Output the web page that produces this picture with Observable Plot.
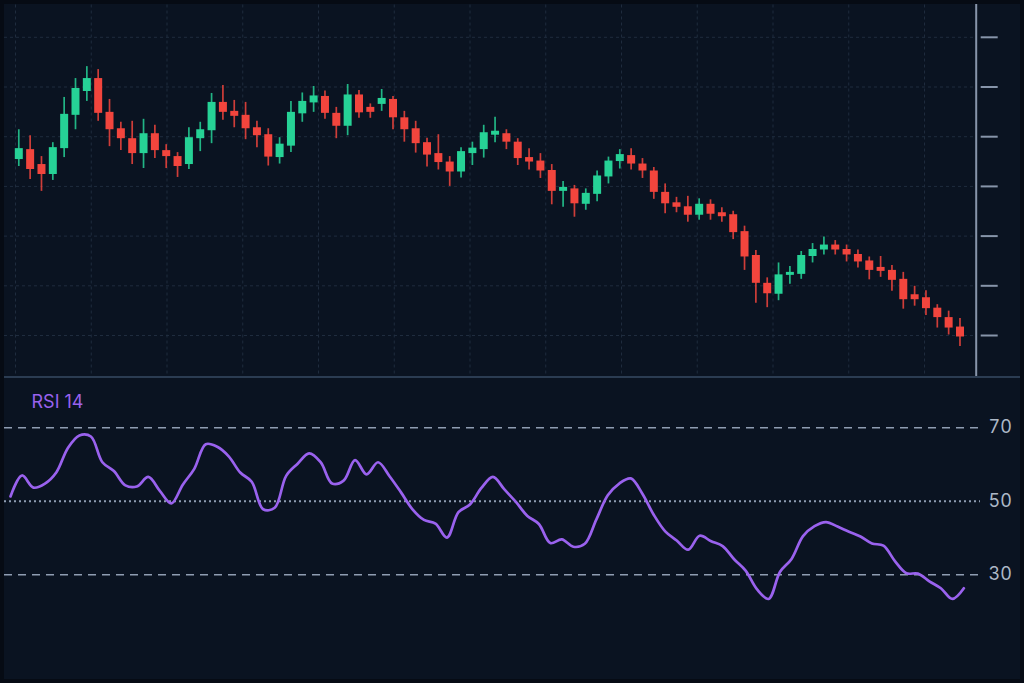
<!DOCTYPE html>
<html>
<head>
<meta charset="utf-8">
<script src="https://cdn.jsdelivr.net/npm/d3@7"></script>
<script src="https://cdn.jsdelivr.net/npm/@observablehq/plot@0.6"></script>
<style>
  html, body { margin: 0; padding: 0; width: 1024px; height: 683px; overflow: hidden; background: #060b14; }
  #panel { position: absolute; left: 4px; top: 4px; width: 1016px; height: 675px; background: #0a1321; }
  #top { position: absolute; left: 0; top: 0; }
  #divider { position: absolute; left: 4px; top: 376px; width: 1016px; height: 2px; background: #2b3c52; }
  #bottom { position: absolute; left: 0; top: 378px; }
  svg { display: block; }
</style>
</head>
<body>
<div id="panel"></div>
<div id="top"></div>
<div id="divider"></div>
<div id="bottom"></div>
<script>
// ---- Data ----
const open  = [135.4,137.4,134.4,132.4,137.6,144.3,149.1,151.7,144.9,141.6,139.6,136.6,140.6,137.2,136.0,134.4,139.6,141.2,146.9,145.1,144.3,141.8,140.4,135.8,138.1,144.6,146.8,148.1,144.7,142.1,148.4,145.9,146.5,147.5,143.8,141.6,138.8,136.6,134.9,132.9,136.6,137.4,140.3,140.6,138.9,135.8,135.1,133.2,129.0,129.5,126.4,128.4,131.9,135.0,136.2,134.5,133.1,128.8,126.7,125.9,124.2,126.4,124.7,124.3,120.9,116.1,110.5,108.3,112.1,112.3,115.9,117.2,118.2,117.3,116.3,115.0,113.7,113.1,111.3,108.2,107.6,105.5,103.6,101.7];
const close = [137.6,133.4,132.4,137.8,144.5,149.7,151.7,144.7,141.4,139.6,136.6,140.6,137.2,136.0,134.0,139.8,141.4,146.9,144.9,144.1,141.6,140.2,135.9,138.5,144.9,147.1,148.2,144.7,142.1,148.4,144.8,144.9,147.7,143.8,141.4,138.6,136.3,134.8,132.9,137.0,137.7,140.8,141.1,138.9,135.6,134.9,133.1,129.0,129.8,126.5,128.6,132.1,135.1,136.4,134.5,133.1,128.8,126.5,125.8,124.2,126.4,124.4,123.9,120.7,115.8,110.5,108.4,112.2,112.7,116.1,117.3,118.2,117.2,116.2,114.8,113.1,112.9,111.1,107.2,107.2,105.4,103.6,101.5,99.7];
const high  = [141.4,140.2,136.0,138.8,147.9,151.7,154.1,153.5,147.5,142.9,143.1,143.5,142.3,138.4,136.8,141.8,142.9,148.7,150.3,147.3,146.9,143.1,141.6,139.8,147.1,148.8,150.1,149.2,145.9,150.5,149.3,146.6,149.5,148.1,145.1,143.1,139.7,140.4,136.0,137.8,138.9,142.3,143.9,141.4,139.6,137.6,136.6,134.4,131.0,130.2,129.5,133.1,135.9,137.4,137.6,135.6,133.8,130.5,127.8,128.0,127.5,127.3,125.7,125.0,122.0,117.1,111.6,114.6,113.9,116.9,118.5,119.8,119.1,118.2,117.2,115.8,115.9,114.1,112.7,109.9,109.0,106.2,104.9,103.4];
const low   = [134.0,131.4,129.0,131.2,135.8,141.4,147.1,143.1,138.0,137.2,134.4,133.6,135.6,133.6,131.8,133.4,137.0,138.6,143.3,141.8,139.4,137.8,134.1,134.5,136.8,142.9,144.9,143.5,139.6,140.2,143.7,143.7,145.1,141.4,138.9,136.7,133.9,133.3,130.0,131.7,134.2,135.7,138.8,137.4,134.2,133.3,131.6,126.3,125.8,123.8,125.2,126.9,130.5,133.5,133.3,131.6,127.4,124.5,124.7,122.8,123.2,123.2,122.8,119.3,113.1,106.5,105.6,107.0,110.3,111.3,114.6,116.2,116.2,114.8,113.6,111.2,111.7,108.9,105.3,105.9,104.0,101.5,100.1,97.8];

const rsi = [51.3,57.0,53.7,54.8,57.9,64.5,67.9,67.6,60.6,58.2,
             54.3,54.0,56.6,52.8,49.4,54.5,58.8,65.5,64.8,62.2,
             57.8,55.3,47.8,48.2,56.9,60.2,63.0,60.6,54.8,55.6,
             61.2,57.3,60.6,56.8,52.4,47.8,44.9,43.9,40.1,47.0,
             49.1,53.6,56.6,53.2,49.8,46.0,43.8,38.6,39.6,37.6,
             38.4,45.0,51.6,54.8,56.2,52.1,46.3,41.8,39.3,36.8,
             40.6,39.1,37.8,34.2,31.1,26.0,23.4,30.8,34.3,40.5,
             43.2,44.3,43.1,41.7,40.4,38.5,37.9,33.7,30.4,30.3,
             28.2,26.3,23.4,26.3];

const priceTicks = [100, 110, 120, 130, 140, 150, 160];
const timeGrid = [-0.29, 6.39, 13.07, 19.75, 26.43, 33.11, 39.79, 46.47, 53.15, 59.83, 66.51, 73.19, 79.87];
const rsiBands = [70, 30];
const rsiMid = [50];
const rsiTicks = [70, 50, 30];
const rsiTitle = ["RSI 14"];

// ---- Styles ----
const UP = "#26d296";
const DOWN = "#f2453d";
const GRID = "#1f2c3e";
const AXIS = "#8795aa";
const LEVEL = "#8f9db2";
const PURPLE = "#9a62ee";
const LABEL = "#adb8c7";
const FONT = "Inter, 'Noto Sans', sans-serif";

const candles = open.map((o, i) => ({
  i, open: o, close: close[i], high: high[i], low: low[i],
  color: close[i] >= o ? UP : DOWN
}));

const topChart = Plot.plot({
  width: 1024,
  height: 378,
  marginLeft: 4,
  marginRight: 48.3,
  marginTop: 4.5,
  marginBottom: 1,
  x: {domain: [-1.261, 84.43], axis: null},
  y: {domain: [91.55, 166.5], axis: null},
  style: {background: "transparent", fontFamily: FONT},
  marks: [
    Plot.gridX(timeGrid, {stroke: GRID, strokeOpacity: 1, strokeWidth: 1, strokeDasharray: "3,3"}),
    Plot.gridY(priceTicks, {stroke: GRID, strokeOpacity: 1, strokeWidth: 1, strokeDasharray: "3,3"}),
    Plot.ruleX(candles, {x: "i", y1: "low", y2: "high", stroke: "color", strokeWidth: 1.7, strokeOpacity: 0.85}),
    Plot.ruleX(candles, {x: "i", y1: "open", y2: "close", stroke: "color", strokeWidth: 8}),
    Plot.frame({anchor: "right", stroke: AXIS, strokeWidth: 2}),
    Plot.axisY(priceTicks, {anchor: "right", tickSize: 17, dx: 4, tickFormat: () => "", stroke: AXIS, strokeWidth: 2})
  ]
});
document.getElementById("top").appendChild(topChart);

const bottomChart = Plot.plot({
  width: 1024,
  height: 305,
  marginLeft: 4,
  marginRight: 44,
  marginTop: 12.45,
  marginBottom: 35.3,
  x: {domain: [-0.522, 84.45], axis: null},
  y: {domain: [10, 80], axis: null},
  style: {background: "transparent", fontFamily: FONT},
  marks: [
    Plot.ruleY(rsiBands, {stroke: LEVEL, strokeWidth: 1.6, strokeDasharray: "8,6"}),
    Plot.ruleY(rsiMid, {stroke: LEVEL, strokeWidth: 2, strokeDasharray: "2,3"}),
    Plot.lineY(rsi, {x: (d, i) => i, y: d => d, stroke: PURPLE, strokeWidth: 2.7, curve: "catmull-rom"}),
    Plot.axisY(rsiTicks, {anchor: "right", tickSize: 0, tickPadding: 8, fontSize: 18, fill: LABEL, textAnchor: "start"}),
    Plot.text(rsiTitle, {frameAnchor: "top-left", dx: 27, dy: 11.5, textAnchor: "start", lineAnchor: "middle", fontSize: 18, fill: PURPLE})
  ]
});
document.getElementById("bottom").appendChild(bottomChart);
</script>
</body>
</html>
